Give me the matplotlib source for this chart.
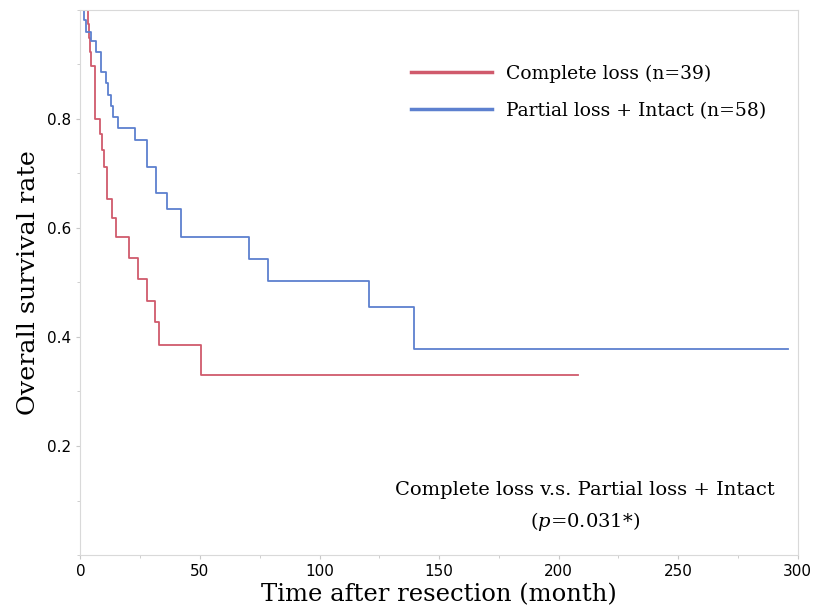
import matplotlib.pyplot as plt
from matplotlib.lines import Line2D
from matplotlib.ticker import MultipleLocator

# Kaplan-Meier step data (months, survival)
red_t = [0, 3.0, 3.4, 4.1, 4.6, 5.9, 8.0, 9.0, 9.9, 11.1, 13.2, 15.0, 20.5, 23.9, 27.9, 31.0, 32.9, 50.3, 208]
red_s = [1.0, 0.974, 0.949, 0.923, 0.897, 0.800, 0.772, 0.743, 0.712, 0.653, 0.618, 0.583, 0.545, 0.506, 0.466, 0.428, 0.385, 0.330, 0.330]

blue_t = [0, 1.3, 2.4, 4.2, 6.6, 8.4, 10.8, 11.4, 12.6, 13.5, 15.6, 22.6, 28.0, 31.7, 36.1, 42.2, 70.6, 78.6, 120.8, 139.6, 296]
blue_s = [1.0, 0.982, 0.960, 0.942, 0.923, 0.885, 0.866, 0.844, 0.823, 0.804, 0.783, 0.761, 0.712, 0.664, 0.635, 0.583, 0.543, 0.503, 0.455, 0.378, 0.378]

labels = ['Complete loss (n=39)', 'Partial loss + Intact (n=58)']
x_ticks = [0, 50, 100, 150, 200, 250, 300]
y_ticks = [0.2, 0.4, 0.6, 0.8]

red = '#d05a6c'
blue = '#5d80cf'

plt.rcParams['mathtext.fontset'] = 'dejavuserif'

fig = plt.figure(figsize=(8.13, 6.10), dpi=100)
ax = fig.add_axes([0.099, 0.090, 0.882, 0.894])

ax.step(red_t, red_s, where='post', color=red, lw=1.3)
ax.step(blue_t, blue_s, where='post', color=blue, lw=1.3)

ax.set_xlim(0, 300)
ax.set_ylim(0, 1.0)
ax.set_xticks(x_ticks)
ax.set_yticks(y_ticks)
ax.xaxis.set_minor_locator(MultipleLocator(25))
ax.yaxis.set_minor_locator(MultipleLocator(0.1))
ax.tick_params(which='both', color='#c8c8c8', length=3, labelsize=11)
ax.tick_params(which='minor', length=2)
for sp in ax.spines.values():
    sp.set_color('#d9d9d9')

ax.set_xlabel('Time after resection (month)', family='DejaVu Serif', fontsize=17.5, labelpad=3)
ax.set_ylabel('Overall survival rate', family='DejaVu Serif', fontsize=18.3, labelpad=5)

handles = [Line2D([], [], color=red, lw=2.5), Line2D([], [], color=blue, lw=2.5)]
ax.legend(handles, labels, loc='upper left', bbox_to_anchor=(0.438, 0.93), frameon=False,
          prop={'family': 'DejaVu Serif', 'size': 13.5}, handlelength=4.3,
          handletextpad=0.75, labelspacing=1.0)

ax.text(0.704, 0.119, 'Complete loss v.s. Partial loss + Intact', transform=ax.transAxes,
        ha='center', va='center', family='DejaVu Serif', fontsize=14)
ax.text(0.704, 0.061, r'($\mathit{p}$=0.031*)', transform=ax.transAxes,
        ha='center', va='center', family='DejaVu Serif', fontsize=14)

plt.savefig('out.png', dpi=100)
